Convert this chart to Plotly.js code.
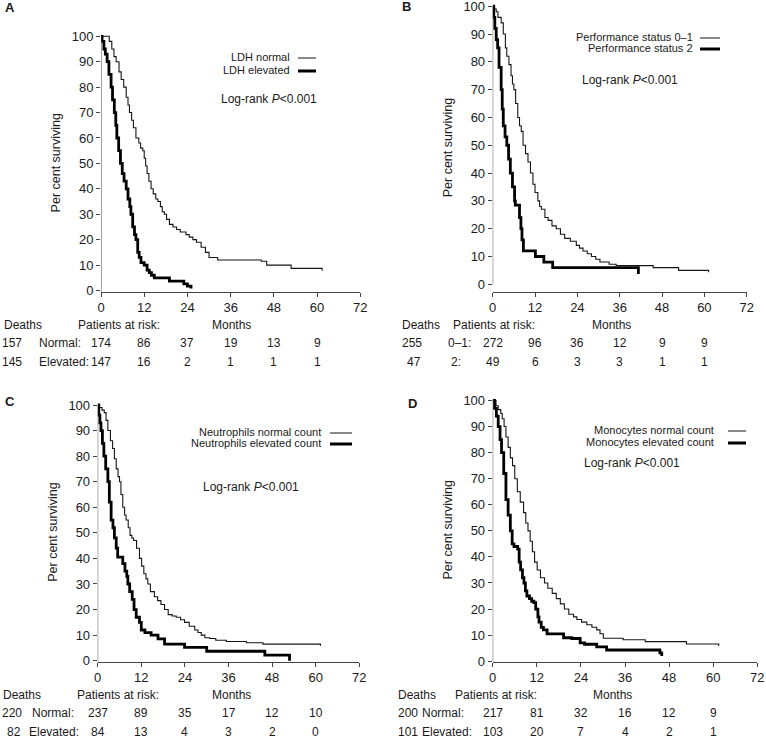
<!DOCTYPE html>
<html>
<head>
<meta charset="utf-8">
<script src="https://cdn.plot.ly/plotly-3.0.1.min.js"></script>
<style>
  html, body { margin: 0; padding: 0; background: #fff; }
  #plot { width: 766px; height: 739px; }
</style>
</head>
<body>
<div id="plot"></div>
<script>
/* Kaplan-Meier curves, four panels */

var monthTicks = [0, 12, 24, 36, 48, 60, 72];
var pctTicks = [0, 10, 20, 30, 40, 50, 60, 70, 80, 90, 100];
var riskMonths = [0, 12, 24, 36, 48, 60];

// A: LDH
var ldhNames = ["LDH normal", "LDH elevated"];
var ldhGroups = ["Normal:", "Elevated:"];
var ldhDeaths = [157, 145];
var ldhNormalRisk = [174, 86, 37, 19, 13, 9];
var ldhElevatedRisk = [147, 16, 2, 1, 1, 1];
var ldhNormalT = [0, 2.3, 3.0, 3.6, 4.2, 5.0, 5.6, 6.3, 7.0, 7.5, 7.9, 8.5, 9.0, 9.7, 10.5, 11.0, 11.6, 12.0, 12.4, 12.8, 13.3, 13.9, 14.5, 15.2, 15.8, 16.5, 17.0, 17.6, 18.2, 19.0, 20.0, 21.0, 22.0, 23.6, 24.5, 25.5, 26.5, 27.8, 29.0, 30.0, 32.4, 44.5, 46.0, 52.8, 61.4, 61.4];
var ldhNormalS = [100, 98, 95, 92, 90, 86, 83, 80, 76, 73, 70, 67, 64, 60, 58, 56, 55, 52, 49, 46, 43, 40, 38, 36, 35, 33, 31, 30, 28, 26, 25, 24, 23, 22, 21, 20, 19, 17, 15, 13, 12, 11.5, 10, 8.7, 8.7, 7.8];
var ldhElevatedT = [0, 0.3, 0.8, 1.2, 1.7, 2.2, 2.8, 3.2, 3.7, 4.1, 4.4, 4.9, 5.4, 5.9, 6.4, 7.0, 7.5, 8.0, 8.3, 8.8, 9.3, 9.7, 10.2, 10.6, 11.1, 12.0, 12.8, 13.4, 14.0, 14.8, 19.0, 23.0, 24.0, 25.0, 25.0];
var ldhElevatedS = [100, 98, 95, 93, 90, 85, 80, 75, 70, 65, 60, 55, 50, 46, 43, 40, 36, 33, 30, 25, 22, 20, 15, 13, 11, 10, 8, 7, 6, 5, 3.7, 2.6, 1.7, 1.7, 0.8];

// B: performance status
var psNames = ["Performance status 0\u20131", "Performance status 2"];
var psGroups = ["0\u20131:", "2:"];
var psDeaths = [255, 47];
var ps01Risk = [272, 96, 36, 12, 9, 9];
var ps2Risk = [49, 6, 3, 3, 1, 1];
var ps01T = [0, 0.5, 1.0, 1.5, 2.4, 3.0, 3.6, 4.0, 4.6, 5.2, 5.6, 6.0, 6.5, 7.1, 7.6, 8.1, 8.6, 9.3, 10.0, 10.7, 11.4, 12.0, 12.8, 13.3, 13.8, 14.8, 15.7, 16.8, 18.0, 19.2, 20.4, 22.0, 23.7, 24.6, 25.6, 26.8, 28.0, 29.2, 30.4, 33.0, 35.0, 45.5, 52.7, 61.2, 61.2];
var ps01S = [100, 99, 98, 96, 94, 90, 85, 82, 79, 75, 72, 70, 65, 60, 57, 55, 50, 47, 44, 40, 36, 33, 30, 28, 27, 24, 23, 21, 20, 18, 16.5, 15.5, 14, 13, 12, 11, 10, 9, 8, 7.2, 6.7, 6, 5, 5, 4.3];
var ps2T = [0, 0.3, 0.6, 1.0, 1.4, 1.8, 2.4, 2.7, 3.0, 3.5, 4.0, 4.5, 5.0, 5.6, 6.2, 6.4, 7.6, 8.0, 8.3, 8.7, 12.1, 14.5, 17.0, 41.3, 41.3];
var ps2S = [100, 96, 92, 88, 85, 78, 70, 63, 57, 53, 50, 45, 40, 35, 30, 28.5, 24, 20, 16, 12, 10, 8, 6, 6, 3.7];

// C: neutrophils
var neuNames = ["Neutrophils normal count", "Neutrophils elevated count"];
var neuGroups = ["Normal:", "Elevated:"];
var neuDeaths = [220, 82];
var neuNormalRisk = [237, 89, 35, 17, 12, 10];
var neuElevatedRisk = [84, 13, 4, 3, 2, 0];
var neuNormalT = [0, 0.5, 1.2, 1.8, 2.3, 2.8, 3.5, 4.1, 4.6, 5.1, 5.6, 6.0, 6.4, 6.9, 7.4, 7.8, 8.4, 8.9, 9.4, 9.9, 10.7, 11.5, 12.1, 12.7, 13.3, 13.8, 14.5, 15.6, 16.5, 17.4, 18.4, 19.4, 20.5, 21.6, 22.8, 23.9, 25.2, 26.7, 27.6, 28.5, 29.5, 30.8, 32.5, 35.4, 40.9, 45.5, 61.3, 61.3];
var neuNormalS = [100, 99, 98, 97, 94, 90, 86, 83, 79, 75, 72, 70, 65, 60, 57, 55, 52, 49, 48, 47, 44, 40, 37, 34, 32, 30, 27, 25, 23.5, 22, 20, 18, 17.5, 17, 16, 15, 13.5, 12, 11, 10, 9, 8.7, 8, 7.5, 7.0, 6.5, 6.5, 5.8];
var neuElevatedT = [0, 0.3, 0.6, 0.9, 1.3, 1.7, 2.2, 2.8, 3.2, 3.7, 4.2, 4.6, 5.1, 5.5, 6.9, 7.5, 8.0, 8.3, 8.8, 9.5, 10.0, 10.6, 11.5, 12.0, 13.0, 14.7, 16.6, 18.4, 23.9, 30.0, 46.0, 52.8];
var neuElevatedS = [100, 96, 93, 90, 85, 80, 75, 70, 62, 55, 52, 48, 44, 40.5, 38, 35, 33, 30, 27, 24, 20, 17, 15, 12, 11, 10, 8.5, 6.5, 5.2, 3.7, 2.2, 0];

// D: monocytes
var monNames = ["Monocytes normal count", "Monocytes elevated count"];
var monGroups = ["Normal:", "Elevated:"];
var monDeaths = [200, 101];
var monNormalRisk = [217, 81, 32, 16, 12, 9];
var monElevatedRisk = [103, 20, 7, 4, 2, 1];
var monNormalT = [0, 0.9, 1.5, 2.2, 2.6, 3.1, 3.6, 4.2, 4.8, 5.4, 6.0, 6.7, 7.5, 8.4, 9.0, 9.6, 10.2, 10.8, 11.4, 12.1, 13.0, 14.1, 15.0, 16.2, 17.3, 18.4, 19.5, 20.7, 22.0, 22.9, 24.2, 25.6, 27.0, 28.3, 29.2, 30.1, 35.5, 41.5, 52.7, 61.5, 61.5];
var monNormalS = [100, 98, 96.5, 95, 93, 90, 86, 82, 78, 75, 70, 65, 61, 57, 53, 50, 46, 42, 38, 35, 32, 30, 28, 26, 24, 22, 20, 18, 17, 16, 15, 14, 13, 12, 10.5, 8.8, 8.2, 7.5, 6.6, 6.6, 5.8];
var monElevatedT = [0, 0.5, 1.0, 1.5, 2.0, 2.4, 3.0, 3.6, 4.2, 4.8, 5.3, 5.8, 6.8, 7.2, 7.6, 8.1, 8.5, 8.9, 9.3, 10.0, 10.6, 11.2, 11.7, 12.3, 12.6, 13.2, 13.8, 14.8, 19.3, 21.5, 23.8, 25.0, 28.3, 31.0, 45.5, 46.0];
var monElevatedS = [100, 97, 94, 90, 85, 80, 72, 62, 56, 50, 45, 44, 43, 38, 35, 32, 30, 27, 25, 24, 23, 22.5, 20, 17, 15, 13, 12, 10.5, 9, 8.7, 7, 6.5, 5.5, 4.3, 3.2, 2];

/* layout, in pixels of the 766x739 page */
var W = 766, H = 739;
function px(x) { return x / W; }
function py(y) { return 1 - y / H; }

var panels = [
  { label: "A", labelXY: [3, 8], x0: 101, x72: 360.3, y0: 290.5, y100: 36.3, axisY: 291.7, yLineFromZero: false,
    curves: [[ldhNormalT, ldhNormalS], [ldhElevatedT, ldhElevatedS]], names: ldhNames,
    legendEnd: 292, legendLine: [298, 316], legendY: [57, 70], logrank: [219, 99],
    deaths: ldhDeaths, groups: ldhGroups, risk: [ldhNormalRisk, ldhElevatedRisk],
    headX: [2, 76, 210], headY: 325, rowY: [343, 362], deathX: [0, 0], groupX: [37, 37] },
  { label: "B", labelXY: [400, 7], x0: 492.7, x72: 746.7, y0: 284.3, y100: 6.2, axisY: 291.7, yLineFromZero: true,
    curves: [[ps01T, ps01S], [ps2T, ps2S]], names: psNames,
    legendEnd: 695, legendLine: [700, 720], legendY: [37, 48], logrank: [580, 80],
    deaths: psDeaths, groups: psGroups, risk: [ps01Risk, ps2Risk],
    headX: [400, 451, 590], headY: 325, rowY: [343, 362], deathX: [400, 405], groupX: [446, 449] },
  { label: "C", labelXY: [3, 402], x0: 97.7, x72: 359.3, y0: 660.7, y100: 405, axisY: 661.7, yLineFromZero: false,
    curves: [[neuNormalT, neuNormalS], [neuElevatedT, neuElevatedS]], names: neuNames,
    legendEnd: 323, legendLine: [330, 352], legendY: [432, 443], logrank: [201, 487],
    deaths: neuDeaths, groups: neuGroups, risk: [neuNormalRisk, neuElevatedRisk],
    headX: [1, 75, 210], headY: 695, rowY: [713, 732], deathX: [0, 5], groupX: [30, 27] },
  { label: "D", labelXY: [406, 403], x0: 492.7, x72: 757.3, y0: 661.2, y100: 400.5, axisY: 661.7, yLineFromZero: false,
    curves: [[monNormalT, monNormalS], [monElevatedT, monElevatedS]], names: monNames,
    legendEnd: 716, legendLine: [728, 746], legendY: [430, 442], logrank: [582, 463],
    deaths: monDeaths, groups: monGroups, risk: [monNormalRisk, monElevatedRisk],
    headX: [396, 453, 591], headY: 695, rowY: [713, 732], deathX: [396, 396], groupX: [420, 420] }
];

var ink = "#1a1a1a";
var axisColor = "#444";
var lineStyles = [{ width: 1.1, color: "#151515" }, { width: 2.8, color: "#000" }];

var layout = {
  width: W, height: H,
  margin: { l: 0, r: 0, t: 0, b: 0 },
  paper_bgcolor: "#fff", plot_bgcolor: "#fff",
  showlegend: false,
  font: { family: "Liberation Sans, Arial, sans-serif", size: 12, color: ink },
  annotations: [],
  shapes: []
};
var data = [];

function note(text, x, y, anchor, size, extra) {
  var a = { xref: "paper", yref: "paper", x: px(x), y: py(y), xanchor: anchor, yanchor: "middle",
            text: text, showarrow: false, font: { size: size, color: ink } };
  for (var k in extra) a[k] = extra[k];
  return a;
}

panels.forEach(function (p, i) {
  var n = i === 0 ? "" : String(i + 1);
  var xName = "xaxis" + n, yName = "yaxis" + n;
  var xRef = "x" + n, yRef = "y" + n;

  var perPct = (p.y0 - p.y100) / 100;
  var yMin = -(p.axisY - p.y0) / perPct;
  var yMax = 101;
  var topPx = p.y0 - yMax * perPct;

  layout[xName] = {
    domain: [px(p.x0), px(p.x72)], anchor: yRef, range: [0, 72],
    tickvals: monthTicks, ticks: "outside", ticklen: 4, tickcolor: axisColor,
    showline: true, linecolor: axisColor, linewidth: 1, ticklabeloverflow: "allow",
    showgrid: false, zeroline: false, tickfont: { size: 13 }
  };
  layout[yName] = {
    domain: [py(p.axisY), py(topPx)], anchor: xRef, range: [yMin, yMax],
    tickvals: pctTicks, ticks: "outside", ticklen: 4, tickcolor: axisColor,
    showline: false, showgrid: false, zeroline: false, tickfont: { size: 13 },
    ticklabeloverflow: "allow",
    title: { text: "Per cent surviving", font: { size: 12.5 }, standoff: 8 }
  };
  // y axis line
  layout.shapes.push({ type: "line", xref: xRef, yref: yRef, x0: 0, x1: 0,
    y0: p.yLineFromZero ? 0 : yMin, y1: 100, line: { color: axisColor, width: 1 } });

  // curves
  p.curves.forEach(function (c, j) {
    data.push({ type: "scatter", mode: "lines", x: c[0], y: c[1], xaxis: xRef, yaxis: yRef,
      line: { shape: "hv", width: lineStyles[j].width, color: lineStyles[j].color }, hoverinfo: "skip" });
  });

  // panel letter
  layout.annotations.push(note("<b>" + p.label + "</b>", p.labelXY[0], p.labelXY[1], "left", 13));

  // legend drawn by hand: text then a line sample to its right
  p.names.forEach(function (nm, j) {
    layout.annotations.push(note(nm, p.legendEnd, p.legendY[j], "right", 11));
    layout.shapes.push({ type: "line", xref: "paper", yref: "paper",
      x0: px(p.legendLine[0]), x1: px(p.legendLine[1]), y0: py(p.legendY[j] + 1), y1: py(p.legendY[j] + 1),
      line: { color: lineStyles[j].color, width: j === 0 ? 1 : 3 } });
  });

  layout.annotations.push(note("Log-rank <i>P</i>&lt;0.001", p.logrank[0], p.logrank[1], "left", 12));

  // numbers at risk table
  layout.annotations.push(note("Deaths", p.headX[0], p.headY, "left", 12));
  layout.annotations.push(note("Patients at risk:", p.headX[1], p.headY, "left", 12));
  layout.annotations.push(note("Months", p.headX[2], p.headY, "left", 12));
  p.risk.forEach(function (row, j) {
    layout.annotations.push(note(String(p.deaths[j]), p.deathX[j], p.rowY[j], "left", 12));
    layout.annotations.push(note(p.groups[j], p.groupX[j], p.rowY[j], "left", 12));
    row.forEach(function (v, k) {
      layout.annotations.push({ xref: xRef, yref: "paper", x: riskMonths[k], y: py(p.rowY[j]),
        xanchor: "center", yanchor: "middle", text: String(v), showarrow: false,
        font: { size: 12, color: ink } });
    });
  });
});

Plotly.newPlot("plot", data, layout, { staticPlot: true });
</script>
</body>
</html>
